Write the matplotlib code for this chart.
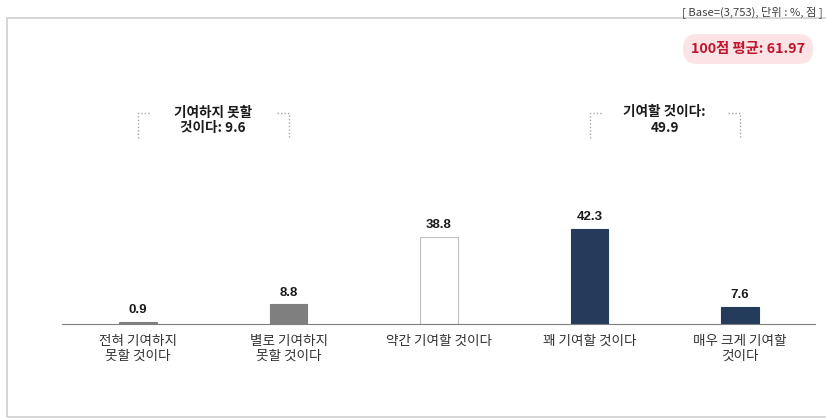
import numpy as np
import matplotlib.pyplot as plt
from matplotlib.patches import Rectangle

plt.rcParams['font.family'] = ['Noto Sans CJK KR', 'DejaVu Sans']

categories = ["전혀 기여하지\n못할 것이다", "별로 기여하지\n못할 것이다", "약간 기여할 것이다",
              "꽤 기여할 것이다", "매우 크게 기여할\n것이다"]
values = [0.9, 8.8, 38.8, 42.3, 7.6]
bar_colors = ["#7f7f7f", "#7f7f7f", "#ffffff", "#253b5b", "#253b5b"]
edge_colors = ["#7f7f7f", "#7f7f7f", "#bfbfbf", "#253b5b", "#253b5b"]
groups = [("기여하지 못할\n것이다: 9.6", 0, 1), ("기여할 것이다:\n49.9", 3, 4)]
avg_text = "100점 평균: 61.97"
base_text = "[ Base=(3,753), 단위 : %, 점 ]"

W, H = 826, 419
fig = plt.figure(figsize=(W / 100, H / 100), dpi=100)

# outer frame
fig.patches.append(Rectangle((7 / W, 1 - 417 / H), 830 / W, 399 / H, transform=fig.transFigure,
                             fill=False, edgecolor="#d0d0d0", lw=1.2))
fig.text(823 / W, 1 - 12 / H, base_text, fontsize=8.1, color="#404040", va="center", ha="right")

ax = fig.add_axes([62 / W, 1 - 324 / H, (815 - 62) / W, (324 - 18) / H])
scale = 2.246  # px per unit
ax.set_xlim(-0.505, 4.498)
ax.set_ylim(0, 306 / scale)

x = np.arange(len(values))
ax.bar(x, values, width=0.25, color=bar_colors, edgecolor=edge_colors, linewidth=0.8, zorder=2)
for xi, v in zip(x, values):
    ax.annotate(f"{v}", (xi, v), xytext=(0, 4), textcoords="offset points", ha="center", va="bottom",
                fontsize=9.5, fontweight="bold", family="Liberation Sans", color="#1a1a1a")

for s in ["top", "right", "left"]:
    ax.spines[s].set_visible(False)
ax.spines["bottom"].set_color("#7f7f7f")
ax.set_yticks([])
ax.set_xticks(x)
ax.set_xticklabels(categories, fontsize=9.8, color="#333333", linespacing=1.1)
ax.tick_params(axis="x", length=0, pad=7)

# group brackets
ytop = (324 - 113) / scale
ybot = (324 - 138) / scale
for label, a, b in groups:
    seg = 12 / 150.5
    ax.plot([a, a, a + seg], [ybot, ytop, ytop], ls=(0, (1, 1.5)), color="#a6a6a6", lw=1, clip_on=False)
    ax.plot([b - seg, b, b], [ytop, ytop, ybot], ls=(0, (1, 1.5)), color="#a6a6a6", lw=1, clip_on=False)
    ax.text((a + b) / 2, (324 - 120) / scale, label, ha="center", va="center", fontsize=9.8,
            fontweight="bold", color="#1a1a1a", linespacing=1.1)

# average badge
fig.text(748 / W, 1 - 49 / H, avg_text, ha="center", va="center", fontsize=10.3, fontweight="bold",
         color="#c0142c",
         bbox=dict(boxstyle="round,pad=0.55,rounding_size=0.95", facecolor="#fbe3e6", edgecolor="none"))

fig.savefig("out.png", dpi=100)
